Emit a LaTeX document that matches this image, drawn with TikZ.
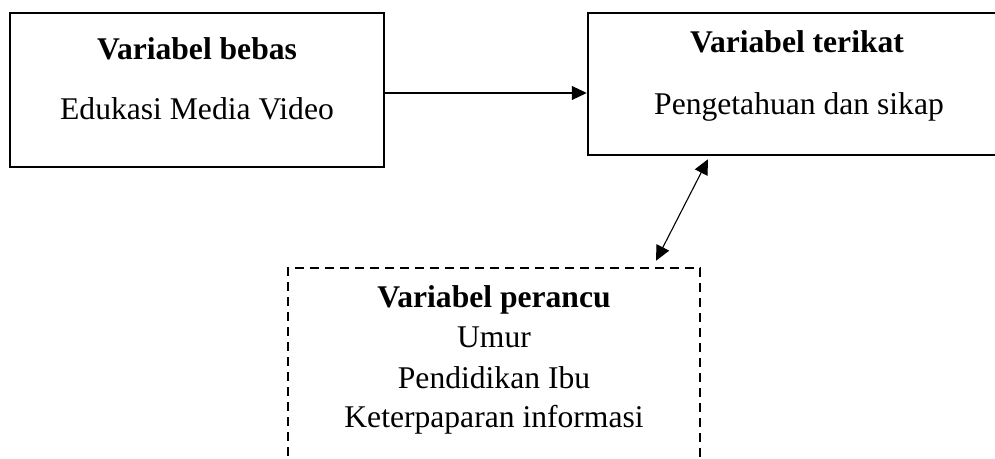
\documentclass[tikz,border=0pt]{standalone}
\usepackage{fontspec}
\setmainfont{Liberation Serif}
\usetikzlibrary{arrows.meta}
\begin{document}
\begin{tikzpicture}[x=0.5pt, y=-0.5pt,
  frame/.style={draw, line width=1.25pt, rectangle, inner sep=0pt},
  dashframe/.style={frame, dash pattern=on 4.5pt off 3pt},
  label/.style={anchor=base, inner sep=0pt, font=\fontsize{15.8}{19}\selectfont},
  title/.style={label, font=\fontsize{15.8}{19}\selectfont\bfseries},
  tip/.style={},
  arr/.style={line width=0.55pt, -{Triangle[length=7.5pt,width=7pt]}},
  dblarr/.style={line width=0.55pt, {Triangle[length=7.5pt,width=7pt]}-{Triangle[length=7.5pt,width=7pt]}}]
  \useasboundingbox (0,0) rectangle (995,459);
  \clip (0,0) rectangle (995,459);

  % boxes
  \node[frame, minimum width=187pt, minimum height=77pt] (bebas) at (197,90) {};
  \node[frame, minimum width=209pt, minimum height=71pt] (terikat) at (797,84) {};
  \node[dashframe, minimum width=206pt, minimum height=106pt] (perancu) at (494,374) {};

  % texts
  \node[title] (t1) at (197,60) {Variabel bebas};
  \node[label] (s1) at (197,120) {Edukasi Media Video};
  \node[title] (t2) at (797,53) {Variabel terikat};
  \node[label] (s2) at (799,115) {Pengetahuan dan sikap};
  \node[title] (t3) at (494,308) {Variabel perancu};
  \node[label] (s3a) at (494,348) {Umur};
  \node[label] (s3b) at (494,388) {Pendidikan Ibu};
  \node[label] (s3c) at (494,427) {Keterpaparan informasi};

  % connectors
  \draw[arr] ([yshift=-1.5pt]bebas.east) -- ([yshift=-1.5pt]bebas.east -| terikat.west);
  \draw[dblarr] ([xshift=81pt, yshift=3pt]perancu.north) -- ([xshift=-44.5pt, yshift=-1.5pt]terikat.south);
\end{tikzpicture}
\end{document}
